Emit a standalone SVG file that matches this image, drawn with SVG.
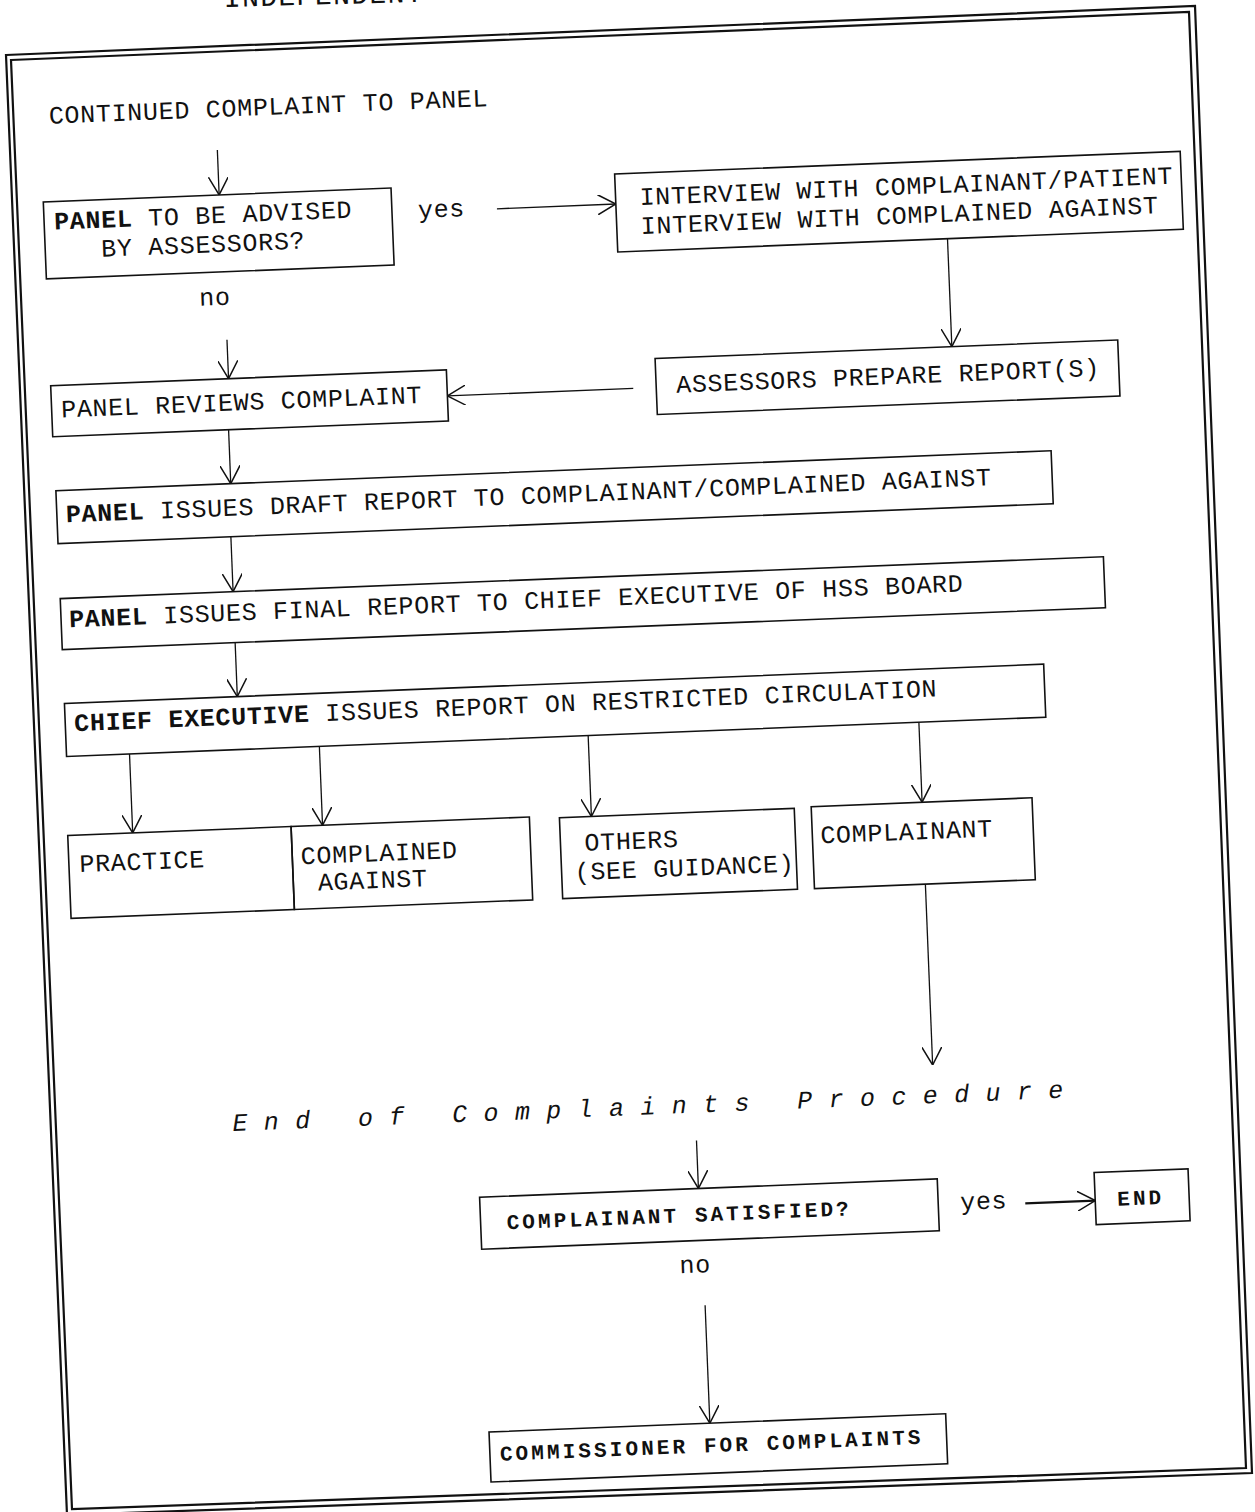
<svg xmlns="http://www.w3.org/2000/svg" width="1255" height="1512" viewBox="0 0 1255 1512">
  <defs>
    <style>
      .frame{fill:none;stroke:#111;stroke-width:2.2;stroke-linejoin:miter}
      .box{fill:none;stroke:#111;stroke-width:1.6}
      .c{fill:none;stroke:#111;stroke-width:1.3;marker-end:url(#ah)}
      .t{font-family:"Courier New","Liberation Mono",monospace;font-size:25px;letter-spacing:0.7px;fill:#111}
      .b{font-weight:bold}
      .s{font-family:"Courier New","Liberation Mono",monospace;font-size:21px;font-weight:bold;letter-spacing:3.1px;fill:#111}
      .spaced{font-family:"Courier New","Liberation Mono",monospace;font-size:25px;font-style:italic;letter-spacing:16.4px;fill:#111}
    </style>
    <!-- open V arrowhead -->
    <marker id="ah" viewBox="0 0 18 20" refX="18" refY="10" markerWidth="18" markerHeight="20" markerUnits="userSpaceOnUse" orient="auto">
      <path d="M0,0 L18,10 L0,20" fill="none" stroke="#111" stroke-width="1.5"/>
    </marker>
  </defs>

  <rect x="0" y="0" width="1255" height="1512" fill="#fff"/>

  <!-- page heading, cut off at the top edge -->
  <text class="t" x="224" y="7" transform="rotate(-1.5 224 7)" style="font-size:28px;letter-spacing:1.4px">INDEPENDENT</text>

  <!-- double-ruled border -->
  <g id="frame">
    <polygon class="frame" points="6,55 1195,6 1252,1473 67,1515"/>
    <polygon class="frame" points="11,60 1189,12 1246,1468 72,1509"/>
  </g>

  <g id="sheet" transform="rotate(-2.3 627 756)">
    <g id="connectors">
      <path class="c" d="M242,134 V179"/>
      <path class="c" d="M519,204 H638"/>
      <path class="c" d="M968,252 V360"/>
      <path class="c" d="M648,389 H462"/>
      <path class="c" d="M244,324 V363"/>
      <path class="c" d="M242,414 V468"/>
      <path class="c" d="M240,521 V576"/>
      <path class="c" d="M240,627 V681"/>
      <path class="c" d="M130,734 V813"/>
      <path class="c" d="M320,734 V813"/>
      <path class="c" d="M589,734 V815"/>
      <path class="c" d="M920,734 V814"/>
      <path class="c" d="M920,896 V1077"/>
      <path class="c" d="M681,1143 V1191"/>
      <path class="c" d="M1007,1219 H1077" style="stroke-width:2.2"/>
      <path class="c" d="M683,1308 V1426"/>
    </g>

    <g id="start">
      <text class="t" x="75" y="101">CONTINUED COMPLAINT TO PANEL</text>
    </g>

    <g id="advised">
      <rect class="box" x="66" y="179" width="348" height="77"/>
      <text class="t" x="76" y="207"><tspan class="b">PANEL</tspan> TO BE ADVISED</text>
      <text class="t" x="122" y="236">BY ASSESSORS?</text>
    </g>
    <g id="label-yes-1"><text class="t" x="440" y="210">yes</text></g>
    <g id="label-no-1"><text class="t" x="218" y="289">no</text></g>

    <g id="interview">
      <rect class="box" x="638" y="174" width="566" height="78"/>
      <text class="t" x="662" y="206">INTERVIEW WITH COMPLAINANT/PATIENT</text>
      <text class="t" x="662" y="235">INTERVIEW WITH COMPLAINED AGAINST</text>
    </g>

    <g id="assessors-report">
      <rect class="box" x="671" y="360" width="463" height="56"/>
      <text class="t" x="691" y="395">ASSESSORS PREPARE REPORT(S)</text>
    </g>

    <g id="panel-reviews">
      <rect class="box" x="66" y="363" width="396" height="51"/>
      <text class="t" x="75.5" y="395">PANEL REVIEWS COMPLAINT</text>
    </g>

    <g id="draft-report">
      <rect class="box" x="67" y="468" width="996" height="53"/>
      <text class="t" x="76" y="500"><tspan class="b">PANEL</tspan> ISSUES DRAFT REPORT TO COMPLAINANT/COMPLAINED AGAINST</text>
    </g>

    <g id="final-report">
      <rect class="box" x="67" y="576" width="1044" height="51"/>
      <text class="t" x="75" y="605"><tspan class="b">PANEL</tspan> ISSUES FINAL REPORT TO CHIEF EXECUTIVE OF HSS BOARD</text>
    </g>

    <g id="chief-executive">
      <rect class="box" x="67" y="681" width="980" height="53"/>
      <text class="t" x="76" y="709"><tspan class="b">CHIEF EXECUTIVE</tspan> ISSUES REPORT ON RESTRICTED CIRCULATION</text>
    </g>

    <g id="practice">
      <rect class="box" x="65" y="813" width="223.5" height="83"/>
      <text class="t" x="75.5" y="850">PRACTICE</text>
    </g>
    <g id="complained-against">
      <rect class="box" x="288.5" y="813" width="238.5" height="83"/>
      <text class="t" x="297" y="851">COMPLAINED</text>
      <text class="t" x="313" y="878">AGAINST</text>
    </g>

    <g id="others">
      <rect class="box" x="557" y="815" width="235" height="81"/>
      <text class="t" x="581" y="849">OTHERS</text>
      <text class="t" x="570" y="878">(SEE GUIDANCE)</text>
    </g>

    <g id="complainant">
      <rect class="box" x="809" y="814" width="221" height="82"/>
      <text class="t" x="817" y="851">COMPLAINANT</text>
    </g>

    <g id="end-of-procedure">
      <text class="spaced" x="218" y="1115">End of Complaints Procedure</text>
    </g>

    <g id="satisfied">
      <rect class="box" x="462" y="1191" width="458" height="52"/>
      <text class="s" x="488" y="1224">COMPLAINANT SATISFIED?</text>
    </g>
    <g id="label-yes-2"><text class="t" x="942" y="1223">yes</text></g>
    <g id="label-no-2"><text class="t" x="659" y="1275">no</text></g>

    <g id="end">
      <rect class="box" x="1077" y="1191" width="94" height="52"/>
      <text class="s" x="1099" y="1225">END</text>
    </g>

    <g id="commissioner">
      <rect class="box" x="462" y="1426" width="457" height="50"/>
      <text class="s" x="472" y="1455">COMMISSIONER FOR COMPLAINTS</text>
    </g>
  </g>
</svg>
